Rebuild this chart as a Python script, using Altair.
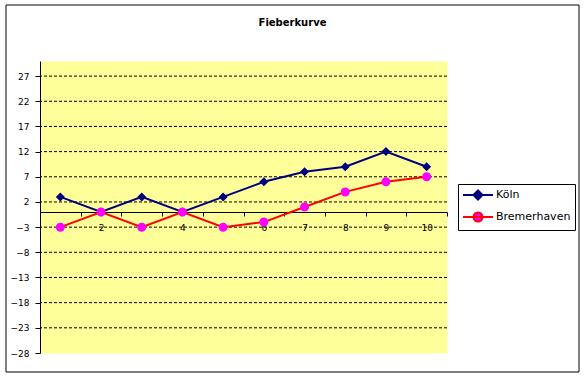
import altair as alt
import pandas as pd

# ---- data ----
tage = [1, 2, 3, 4, 5, 6, 7, 8, 9, 10]
koeln = [3, 0, 3, 0, 3, 6, 8, 9, 12, 9]
bremerhaven = [-3, 0, -3, 0, -3, -2, 1, 4, 6, 7]
staedte = ["Köln", "Bremerhaven"]
y_ticks = [-28, -23, -18, -13, -8, -3, 2, 7, 12, 17, 22, 27]
grid_values = y_ticks[1:]
titel = "Fieberkurve"

rows = []
for name, vals in zip(staedte, [koeln, bremerhaven]):
    for t, v in zip(tage, vals):
        rows.append({"Tag": t, "Stadt": name, "Wert": v})
df = pd.DataFrame(rows)
grid_df = pd.DataFrame({"Wert": grid_values})

# ---- style ----
W, H = 407, 292
Y_DOMAIN = [-28, 30]
line_colors = ["#000080", "#FF0000"]
marker_colors = ["#000080", "#FF00FF"]
diamond = "M-2.5,0H2.5M0,-0.75L0.75,0L0,0.75L-0.75,0Z"
circle = "M-2.5,0H2.5M0.75,0A0.75,0.75 0 1,1 -0.75,0A0.75,0.75 0 1,1 0.75,0Z"
FONT = "DejaVu Sans"

yscale = alt.Scale(domain=Y_DOMAIN, nice=False, zero=False)
xscale = alt.Scale(type="band", paddingInner=0, paddingOuter=0)
yaxis = alt.Axis(title=None, values=y_ticks, grid=False, tickSize=5,
                 labelPadding=6, domainColor="black", tickColor="black",
                 labelColor="black", labelFont=FONT, labelFontSize=9)

leg = alt.Legend(
    title=None, orient="none", legendX=418, legendY=123,
    strokeColor="black", fillColor="white", padding=4,
    symbolSize=144, symbolStrokeWidth=2, symbolOffset=9,
    labelOffset=11, rowPadding=4, labelFont=FONT, labelFontSize=11,
    labelColor="black", symbolOpacity=1,
)

x_enc = alt.X(
    "Tag:O", scale=xscale,
    axis=alt.Axis(title=None, labelAngle=0, offset=-141, tickBand="extent",
                  tickSize=4, labelPadding=7, domainColor="black",
                  tickColor="black", labelColor="black", labelFont=FONT,
                  labelFontSize=9, grid=False),
)
y_enc = alt.Y("Wert:Q", scale=yscale, axis=yaxis)

border = alt.Chart(pd.DataFrame({"a": [0]})).mark_rect(
    fillOpacity=0, stroke="black", strokeWidth=1
).encode(x=alt.value(-34), x2=alt.value(539), y=alt.value(-56), y2=alt.value(311))

grid = alt.Chart(grid_df).mark_rule(
    color="black", strokeDash=[3, 2], strokeWidth=1
).encode(y=y_enc)

lines = alt.Chart(df).mark_line(strokeWidth=2).encode(
    x=x_enc, y=y_enc,
    stroke=alt.Stroke("Stadt:N", scale=alt.Scale(domain=staedte, range=line_colors), legend=leg),
)

points = alt.Chart(df).mark_point(filled=True, size=144, strokeWidth=0, opacity=1).encode(
    x=x_enc, y=y_enc,
    fill=alt.Fill("Stadt:N", scale=alt.Scale(domain=staedte, range=marker_colors), legend=leg),
    shape=alt.Shape("Stadt:N", scale=alt.Scale(domain=staedte, range=[diamond, circle]), legend=leg),
)

chart = alt.layer(border, grid, lines, points).properties(
    width=W, height=H,
    title=alt.TitleParams(titel, font=FONT, fontSize=10, fontWeight="bold",
                          anchor="middle", frame="group", dx=49, dy=28, offset=0,
                          baseline="middle", color="black"),
    padding={"left": 40, "top": 61, "right": 137, "bottom": 24},
    autosize="none",
    background="white",
).configure_view(fill="#FFFF99", stroke="transparent")

chart.save("out.html", embed_options={"renderer": "svg", "actions": False})
